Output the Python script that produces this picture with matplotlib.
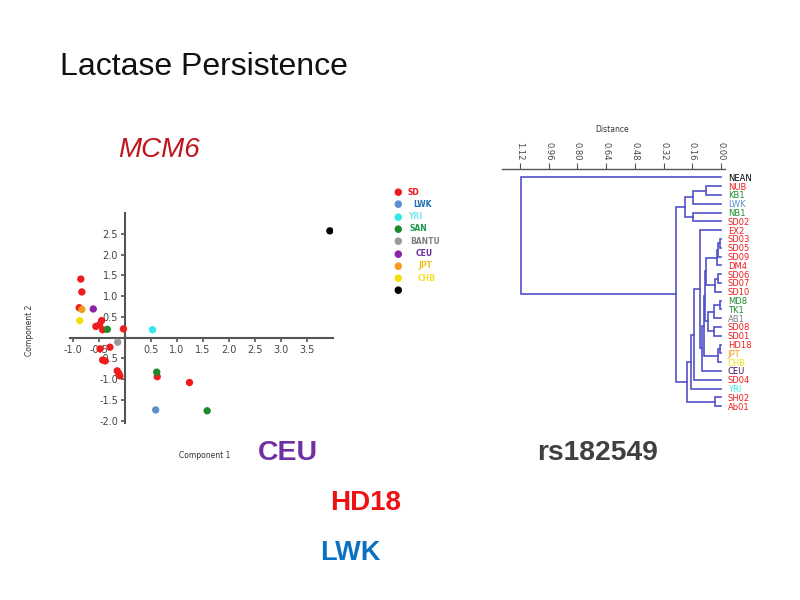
import numpy as np
import matplotlib.pyplot as plt

# ---- PCA scatter (MCM6) ----
pop_names = ['SD', 'LWK', 'YRI', 'SAN', 'BANTU', 'CEU', 'JPT', 'CHB', '']
pop_colors = ['#ee1c1c', '#5b8fd0', '#33e8e8', '#1e8a2e', '#9a9a9a', '#8a22a6', '#f59a1b', '#f2df10', '#000000']
legend_text_colors = ['#e8141c', '#1f6fb5', '#7fe8e8', '#1e9a4e', '#808080', '#7030a0', '#f0c020', '#f5e030', '#000000']

sd_x = [-0.85, -0.83, -0.88, -0.45, -0.56, -0.49, -0.43, -0.03, -0.48, -0.29,
        -0.43, -0.38, -0.15, -0.12, -0.10, 0.62, 1.24]
sd_y = [1.41, 1.10, 0.72, 0.41, 0.27, 0.31, 0.19, 0.21, -0.27, -0.23,
        -0.54, -0.56, -0.80, -0.86, -0.92, -0.94, -1.08]
lwk_x, lwk_y = [0.59], [-1.74]
yri_x, yri_y = [0.53], [0.19]
san_x = [-0.34, 0.61, 1.58]
san_y = [0.20, -0.83, -1.76]
bantu_x, bantu_y = [-0.14], [-0.11]
ceu_x, ceu_y = [-0.61], [0.69]
jpt_x, jpt_y = [-0.83], [0.68]
chb_x, chb_y = [-0.87], [0.41]
nean_x, nean_y = [3.94], [2.57]

groups = [(sd_x, sd_y), (lwk_x, lwk_y), (yri_x, yri_y), (san_x, san_y),
          (bantu_x, bantu_y), (ceu_x, ceu_y), (jpt_x, jpt_y), (chb_x, chb_y),
          (nean_x, nean_y)]

x_ticks = [-1.0, -0.5, 0.5, 1.0, 1.5, 2.0, 2.5, 3.0, 3.5]
y_ticks = [-2.0, -1.5, -1.0, -0.5, 0.5, 1.0, 1.5, 2.0, 2.5]

# ---- dendrogram (rs182549) ----
leaves = ['NEAN', 'NUB', 'KB1', 'LWK', 'NB1', 'SD02', 'EX2', 'SD03', 'SD05', 'SD09',
          'DM4', 'SD06', 'SD07', 'SD10', 'MD8', 'TK1', 'AB1', 'SD08', 'SD01', 'HD18',
          'JPT', 'CHB', 'CEU', 'SD04', 'YRI', 'SH02', 'Ab01']
leaf_colors = ['#000000', '#ee1c1c', '#1e8a2e', '#5b8fd0', '#1e8a2e', '#ee1c1c', '#ee1c1c',
               '#ee1c1c', '#ee1c1c', '#ee1c1c', '#ee1c1c', '#ee1c1c', '#ee1c1c', '#ee1c1c',
               '#1e8a2e', '#1e8a2e', '#808080', '#ee1c1c', '#ee1c1c', '#ee1c1c',
               '#f59a1b', '#f2df10', '#3a1060', '#ee1c1c', '#33e8e8', '#ee1c1c', '#ee1c1c']
# merges: (left, right, distance); ints refer to earlier merges, strings to leaves
merges = [
    ('NUB', 'KB1', 0.084),   # 0
    (0, 'LWK', 0.155),       # 1
    ('NB1', 'SD02', 0.155),  # 2
    (1, 2, 0.200),           # 3
    ('SD03', 'SD05', 0.008), # 4
    (4, 'SD09', 0.018),      # 5
    (5, 'DM4', 0.024),       # 6
    ('SD06', 'SD07', 0.015), # 7
    (7, 'SD10', 0.036),      # 8
    (6, 8, 0.082),           # 9
    ('MD8', 'TK1', 0.005),   # 10
    (10, 'AB1', 0.040),      # 11
    ('SD08', 'SD01', 0.040), # 12
    (11, 12, 0.070),         # 13
    (9, 13, 0.090),          # 14
    ('HD18', 'JPT', 0.008),  # 15
    (15, 'CHB', 0.015),      # 16
    (14, 16, 0.097),         # 17
    (17, 'CEU', 0.106),      # 18
    ('EX2', 18, 0.119),      # 19
    (19, 'SD04', 0.153),     # 20
    (20, 'YRI', 0.170),      # 21
    ('SH02', 'Ab01', 0.036), # 22
    (21, 22, 0.190),         # 23
    (3, 23, 0.253),          # 24
    ('NEAN', 24, 1.115),     # 25
]
dist_ticks = [1.12, 0.96, 0.80, 0.64, 0.48, 0.32, 0.16, 0.00]

fig = plt.figure(figsize=(8, 6), dpi=100)
fig.patch.set_facecolor('white')

fig.text(60/800, 1-67/600, 'Lactase Persistence', fontsize=23, family='Liberation Sans',
         va='center', ha='left', color='#111111')
fig.text(118/800, 1-150/600, 'MCM6', fontsize=20, family='Liberation Sans', style='italic',
         va='center', ha='left', color='#c0141c')
fig.text(258/800, 1-453/600, 'CEU', fontsize=20.5, family='Liberation Sans', weight='bold',
         va='center', ha='left', color='#7030a0')
fig.text(330/800, 1-503/600, 'HD18', fontsize=20, family='Liberation Sans', weight='bold',
         va='center', ha='left', color='#ee1111')
fig.text(320/800, 1-553/600, 'LWK', fontsize=19.5, family='Liberation Sans', weight='bold',
         va='center', ha='left', color='#0a70c0')
fig.text(537/800, 1-453/600, 'rs182549', fontsize=20.3, family='Liberation Sans', weight='bold',
         va='center', ha='left', color='#404040')

# scatter
ax = fig.add_axes([70.4/800, 1-422.8/600, 262.6/800, 209.8/600])
for (gx, gy), c in zip(groups, pop_colors):
    ax.scatter(gx, gy, s=28, color=c, edgecolors='none', zorder=3)
ax.set_xlim(-1.05, 4.0)
ax.set_ylim(-2.05, 3.0)
ax.spines['left'].set_position(('data', 0))
ax.spines['bottom'].set_position(('data', 0))
ax.spines['right'].set_visible(False)
ax.spines['top'].set_visible(False)
for s in ['left', 'bottom']:
    ax.spines[s].set_color('#555555')
    ax.spines[s].set_linewidth(1.5)
ax.set_xticks(x_ticks)
ax.set_yticks(y_ticks)
ax.set_xticklabels(['%.1f' % v for v in x_ticks])
ax.set_yticklabels(['%.1f' % v for v in y_ticks])
ax.tick_params(labelsize=7, colors='#555555', labelcolor='#444444', length=3, width=1.2, pad=2)
ax.patch.set_alpha(0)
fig.text(205/800, 1-455/600, 'Component 1', fontsize=5.5, ha='center', va='center', color='#333333')
fig.text(30/800, 1-330/600, 'Component 2', fontsize=5.5, ha='center', va='center',
         rotation=90, color='#333333')

# legend
leg_y0 = 192
for k, name in enumerate(pop_names):
    yy = 1 - (leg_y0 + 12.3*k)/600
    fig.text(398/800, yy, '\u25CF', fontsize=7, color=pop_colors[k], ha='center', va='center')
    fig.text((408 + [0, 5, 0, 2, 2, 8, 10, 10, 0][k])/800, yy, name, fontsize=5.5,
             weight='bold', color=legend_text_colors[k], ha='left', va='center')

# dendrogram
dx = fig.add_axes([501.7/800, 1-415/600, 223.3/800, 246/600])
leaf_pos = {name: i for i, name in enumerate(leaves)}
node_y = []
node_h = []
line_col = '#5252c8'


def pos(ref):
    if isinstance(ref, str):
        return leaf_pos[ref], 0.0
    return node_y[ref], node_h[ref]


for left, right, h in merges:
    y1, h1 = pos(left)
    y2, h2 = pos(right)
    dx.plot([h1, h, h, h2], [y1, y1, y2, y2], color=line_col, lw=1.2, solid_joinstyle='miter')
    node_y.append((y1 + y2) / 2)
    node_h.append(h)

dx.set_xlim(1.222, -0.022)
dx.set_ylim(27.0, -0.943)
for s in ['left', 'right', 'bottom']:
    dx.spines[s].set_visible(False)
dx.spines['top'].set_color('#555555')
dx.spines['top'].set_linewidth(1.0)
dx.xaxis.tick_top()
dx.set_xticks(dist_ticks)
dx.set_xticklabels(['%.2f' % v for v in dist_ticks], rotation=-90)
dx.tick_params(axis='x', labelsize=6, colors='#555555', labelcolor='#444444', length=4, pad=2)
dx.yaxis.tick_right()
dx.set_yticks(range(len(leaves)))
dx.set_yticklabels(leaves)
dx.tick_params(axis='y', length=0, pad=2, labelsize=6)
for lab, c in zip(dx.get_yticklabels(), leaf_colors):
    lab.set_color(c)
dx.patch.set_alpha(0)
fig.text(612/800, 1-130/600, 'Distance', fontsize=5.5, ha='center', va='center', color='#333333')

fig.savefig('out.png', dpi=100, facecolor='white')
